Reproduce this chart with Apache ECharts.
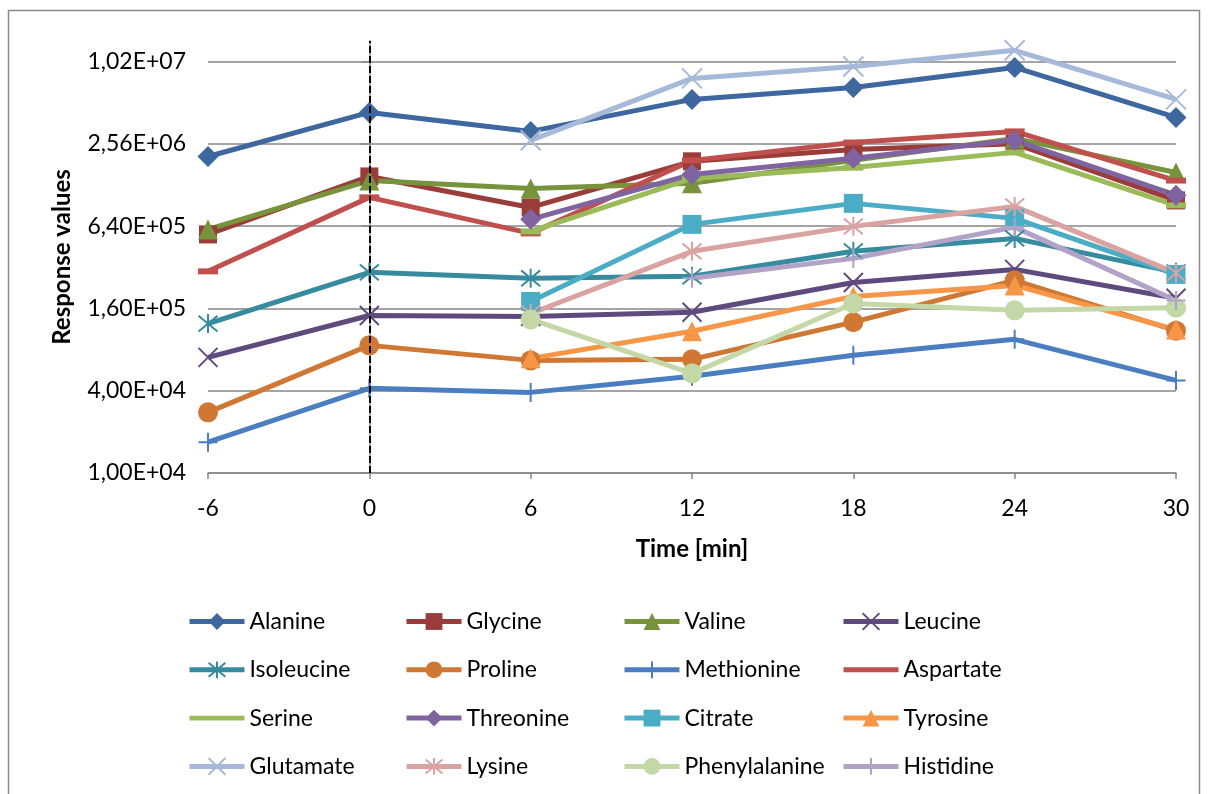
<!DOCTYPE html>
<html>
<head>
<meta charset="utf-8">
<title>Response values over time</title>
<script src="https://cdn.jsdelivr.net/npm/echarts@6/dist/echarts.min.js"></script>
<style>
  html, body { margin: 0; padding: 0; background: #ffffff; }
  #chart { width: 1208px; height: 794px; }
</style>
</head>
<body>
<div id="chart"></div>
<script>
// Sampling times [min]
const times = [-6, 0, 6, 12, 18, 24, 30];

// Response values per compound (null = not measured)
const alanine       = [2.07e6, 4.35e6, 3.16e6, 5.42e6, 6.63e6, 9.29e6, 4.00e6];
const glycine       = [5.57e5, 1.48e6, 8.78e5, 1.91e6, 2.33e6, 2.57e6, 9.88e5];
const valine        = [6.06e5, 1.38e6, 1.21e6, 1.32e6, 1.94e6, 2.81e6, 1.58e6];
const leucine       = [7.02e4, 1.42e5, 1.40e5, 1.50e5, 2.48e5, 3.09e5, 1.90e5];
const isoleucine    = [1.24e5, 2.94e5, 2.66e5, 2.75e5, 4.19e5, 5.21e5, 2.94e5];
const proline       = [2.78e4, 8.59e4, 6.67e4, 6.79e4, 1.27e5, 2.57e5, 1.10e5];
const methionine    = [1.68e4, 4.17e4, 3.89e4, 5.10e4, 7.26e4, 9.51e4, 4.76e4];
const aspartate     = [2.99e5, 1.04e6, 5.67e5, 1.94e6, 2.62e6, 3.16e6, 1.38e6];
const serine        = [null, null, 5.86e5, 1.43e6, 1.72e6, 2.22e6, 9.09e5];
const threonine     = [null, null, 7.18e5, 1.53e6, 2.01e6, 2.72e6, 1.08e6];
const citrate       = [null, null, 1.80e5, 6.60e5, 9.40e5, 7.30e5, 2.84e5];
const tyrosine      = [null, null, 6.90e4, 1.09e5, 1.96e5, 2.36e5, 1.12e5];
const glutamate     = [null, null, 2.72e6, 7.72e6, 9.44e6, 1.24e7, 5.42e6];
const lysine        = [null, null, 1.47e5, 4.19e5, 6.38e5, 8.93e5, 2.90e5];
const phenylalanine = [null, null, 1.33e5, 5.36e4, 1.74e5, 1.55e5, 1.62e5];
const histidine     = [null, null, null, 2.66e5, 3.72e5, 6.30e5, 1.83e5];

// Log axis (base 4) tick values and bounds
const yTicks = [1e4, 4e4, 1.6e5, 6.4e5, 2.56e6, 1.024e7];
const yMin = 1e4;
const yMax = 1.45e7;

// Marker shapes
const X_MARK    = 'path://M0,0L10,10M10,0L0,10';
const PLUS_MARK = 'path://M5,0L5,10M0,5L10,5';
const STAR_MARK = 'path://M0,0L10,10M10,0L0,10M5,-1L5,11';
const DASH_ICON = 'path://M0,0H56V5H0Z';

const FONT = 'Lato, "Liberation Sans", sans-serif';

const defs = [
  { name: 'Alanine',       values: alanine,       color: '#3D679E', symbol: 'diamond',  size: 21 },
  { name: 'Glycine',       values: glycine,       color: '#9A3C39', symbol: 'rect',     size: 18 },
  { name: 'Valine',        values: valine,        color: '#77933C', symbol: 'triangle', size: 20 },
  { name: 'Leucine',       values: leucine,       color: '#5F4A7E', symbol: X_MARK,     size: 19, stroke: true },
  { name: 'Isoleucine',    values: isoleucine,    color: '#378B9F', symbol: STAR_MARK,  size: 19, stroke: true },
  { name: 'Proline',       values: proline,       color: '#D07833', symbol: 'circle',   size: 20 },
  { name: 'Methionine',    values: methionine,    color: '#4A7EC0', symbol: PLUS_MARK,  size: 19, stroke: true },
  { name: 'Aspartate',     values: aspartate,     color: '#C0504D', symbol: 'rect',     size: [20, 6], dash: true },
  { name: 'Serine',        values: serine,        color: '#9BBB59', symbol: 'rect',     size: [20, 6], dash: true },
  { name: 'Threonine',     values: threonine,     color: '#8064A2', symbol: 'diamond',  size: 21 },
  { name: 'Citrate',       values: citrate,       color: '#4BACC6', symbol: 'rect',     size: 19 },
  { name: 'Tyrosine',      values: tyrosine,      color: '#F79646', symbol: 'triangle', size: 20 },
  { name: 'Glutamate',     values: glutamate,     color: '#A7B9D8', symbol: X_MARK,     size: 20, stroke: true },
  { name: 'Lysine',        values: lysine,        color: '#D9A3A1', symbol: STAR_MARK,  size: 19, stroke: true },
  { name: 'Phenylalanine', values: phenylalanine, color: '#C4D7A6', symbol: 'circle',   size: 20 },
  { name: 'Histidine',     values: histidine,     color: '#B3A2C7', symbol: PLUS_MARK,  size: 19, stroke: true }
];

function sci(v) {
  const parts = v.toExponential(2).split('e');
  const mant = parts[0].replace('.', ',');
  const expNum = parseInt(parts[1], 10);
  const sign = expNum < 0 ? '-' : '+';
  const e = String(Math.abs(expNum)).padStart(2, '0');
  return mant + 'E' + sign + e;
}

const series = defs.map(function (d, i) {
  const data = [];
  times.forEach(function (t, j) {
    if (d.values[j] !== null) data.push([t, d.values[j]]);
  });
  const s = {
    name: d.name,
    type: 'line',
    data: data,
    symbol: d.symbol,
    symbolSize: d.size,
    showSymbol: true,
    lineStyle: { color: d.color, width: 5 },
    itemStyle: d.stroke
      ? { color: d.color, borderColor: d.color, borderWidth: 2 }
      : { color: d.color },
    emphasis: { disabled: true },
    animation: false
  };
  if (i === defs.length - 1) {
    s.markLine = {
      silent: true,
      z: 10,
      symbol: ['none', 'none'],
      label: { show: false },
      lineStyle: { color: '#000000', type: [7, 3], width: 2 },
      data: [{ xAxis: 0 }]
    };
  }
  return s;
});

// Legend laid out as a 4-column grid (row-major order)
const legendCols = [187, 404, 622, 841];
const legends = legendCols.map(function (left, c) {
  const items = [];
  for (let r = 0; r < 4; r++) {
    const d = defs[r * 4 + c];
    items.push(d.dash ? { name: d.name, icon: DASH_ICON } : { name: d.name });
  }
  return {
    data: items,
    orient: 'vertical',
    left: left,
    top: 610,
    padding: 0,
    itemWidth: 55,
    itemHeight: 21,
    itemGap: 25.3,
    selectedMode: false,
    lineStyle: { width: 5 },
    textStyle: { fontFamily: FONT, fontSize: 23, color: '#000000' }
  };
});

const chart = echarts.init(document.getElementById('chart'), null, { renderer: 'canvas' });

chart.setOption({
  backgroundColor: '#ffffff',
  animation: false,
  graphic: [{
    type: 'rect',
    silent: true,
    shape: { x: 8.5, y: 10.5, width: 1191, height: 820 },
    style: { fill: 'none', stroke: '#8a8a8a', lineWidth: 1.5 }
  }],
  grid: { left: 208, right: 32, top: 41, bottom: 321, containLabel: false },
  legend: legends,
  xAxis: {
    type: 'value',
    min: -6,
    max: 30,
    interval: 6,
    name: 'Time [min]',
    nameLocation: 'middle',
    nameGap: 64,
    nameTextStyle: { fontFamily: FONT, fontSize: 24, fontWeight: 'bold', color: '#000000' },
    axisLine: { show: true, onZero: false, lineStyle: { color: '#868686', width: 1.5 } },
    axisTick: { show: true, inside: false, length: 6, lineStyle: { color: '#868686', width: 1.5 } },
    axisLabel: { margin: 24, fontFamily: FONT, fontSize: 23, color: '#000000' },
    splitLine: { show: false }
  },
  yAxis: {
    type: 'log',
    logBase: 4,
    min: yMin,
    max: yMax,
    name: 'Response values',
    nameLocation: 'middle',
    nameGap: 134,
    nameTextStyle: { fontFamily: FONT, fontSize: 24, fontWeight: 'bold', color: '#000000' },
    axisLine: { show: true, lineStyle: { color: '#868686', width: 1.5 } },
    axisTick: { show: true, inside: false, length: 8, customValues: yTicks, lineStyle: { color: '#868686', width: 1.5 } },
    axisLabel: {
      customValues: yTicks,
      margin: 22,
      fontFamily: FONT,
      fontSize: 23,
      color: '#000000',
      formatter: function (v) { return sci(v); }
    },
    splitLine: { show: true, lineStyle: { color: '#868686', width: 1.5 } }
  },
  series: series
});
</script>
</body>
</html>
